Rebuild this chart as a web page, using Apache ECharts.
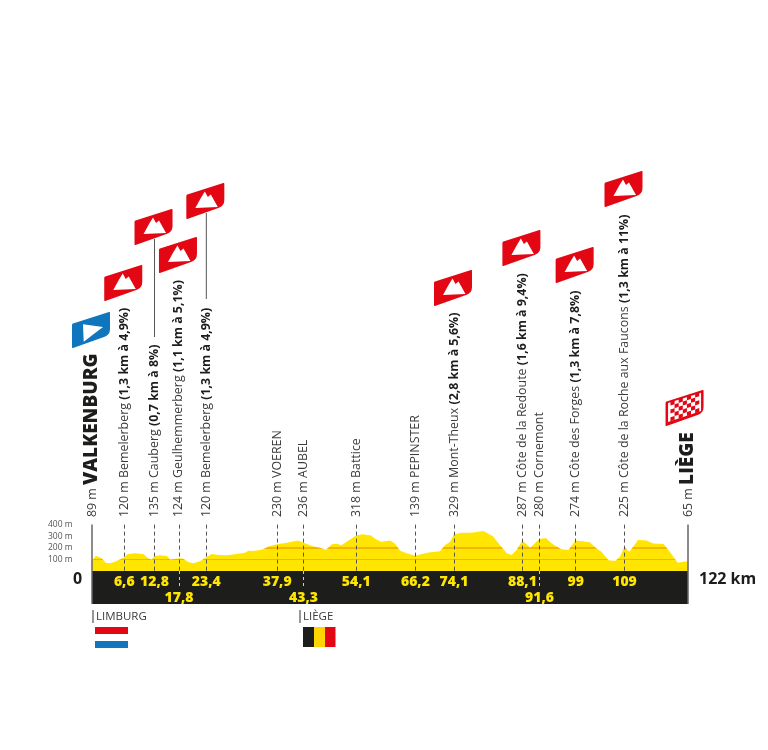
<!DOCTYPE html>
<html>
<head>
<meta charset="utf-8">
<style>html,body{margin:0;padding:0;background:#fff}#main{width:768px;height:750px}</style>
<script src="https://cdn.jsdelivr.net/npm/echarts@6/dist/echarts.min.js"></script>
</head>
<body>
<div id="main"></div>
<script>
// profile
const profileKm = [0, 0.8, 2, 2.8, 3.7, 4.7, 6.6, 7.2, 8.8, 10.5, 11.5, 12.2, 12.8, 13.9, 15.3, 16, 17.8, 18.7, 19.7, 20.7, 22.1, 23.4, 24.5, 25.9, 27.6, 29.6, 31.3, 32, 33, 34.7, 36.4, 37.9, 39.9, 42.2, 43.3, 45, 46.7, 47.9, 49.1, 50.1, 51.1, 52.5, 54.1, 55.4, 57.1, 58.1, 59.2, 61, 62, 63.1, 64.4, 66.2, 67.5, 69.2, 70.2, 71.2, 72.3, 73.3, 74.1, 75.7, 77.7, 80.1, 82, 83.5, 84.9, 85.9, 86.9, 88.1, 89.7, 91.6, 92.9, 94.1, 96.1, 97.5, 99, 101.9, 103.3, 104.3, 105.7, 107.1, 108.1, 109, 110, 111.8, 113.5, 114.9, 117, 118, 119.9, 121.7, 122]
const profileElev = [89, 132, 109, 72, 66, 80, 118, 144, 152, 147, 109, 100, 130, 135, 130, 100, 109, 106, 78, 66, 83, 118, 147, 138, 135, 147, 158, 175, 172, 184, 215, 230, 244, 264, 244, 215, 201, 184, 230, 235, 221, 262, 305, 316, 307, 273, 253, 264, 238, 175, 152, 132, 147, 161, 167, 170, 224, 253, 316, 330, 330, 345, 302, 224, 152, 138, 181, 262, 201, 276, 285, 238, 187, 181, 262, 247, 195, 167, 92, 86, 124, 210, 167, 267, 262, 238, 233, 181, 72, 83, 65]

const markerKm = [0, 6.6, 12.8, 17.8, 23.4, 37.9, 43.3, 54.1, 66.2, 74.1, 88.1, 91.6, 99, 109, 122]
const markerName = ['89 m', '120 m Bemelerberg', '135 m Cauberg', '124 m Geulhemmerberg', '120 m Bemelerberg', '230 m VOEREN', '236 m AUBEL', '318 m Battice', '139 m PEPINSTER', '329 m Mont-Theux', '287 m Côte de la Redoute', '280 m Cornemont', '274 m Côte des Forges', '225 m Côte de la Roche aux Faucons', '65 m']
const markerBold = ['VALKENBURG', '(1,3 km à 4,9%)', '(0,7 km à 8%)', '(1,1 km à 5,1%)', '(1,3 km à 4,9%)', '', '', '', '', '(2,8 km à 5,6%)', '(1,6 km à 9,4%)', '', '(1,3 km à 7,8%)', '(1,3 km à 11%)', 'LIÈGE']

const kmRowOne = [6.6, 12.8, 23.4, 37.9, 54.1, 66.2, 74.1, 88.1, 99, 109]
const kmRowOneText = ['6,6', '12,8', '23,4', '37,9', '54,1', '66,2', '74,1', '88,1', '99', '109']
const kmRowTwo = [17.8, 43.3, 91.6]
const kmRowTwoText = ['17,8', '43,3', '91,6']
const dashKm = [6.6, 12.8, 17.8, 23.4, 37.9, 43.3, 54.1, 66.2, 74.1, 88.1, 91.6, 99, 109]

// [km, top of the flag in px, kind, bottom of leader in px]
const flags = [
  [0, 312, 1, 0],
  [6.6, 265, 0, 0],
  [12.8, 209, 0, 337],
  [17.8, 237, 0, 0],
  [23.4, 183, 0, 299],
  [74.1, 270, 0, 0],
  [88.1, 230, 0, 0],
  [99, 247, 0, 0],
  [109, 171, 0, 0],
  [121.5, 390, 2, 0]
]

const FONT = '"Open Sans", sans-serif'
const TEXT = '#3c3c3b'
const BAND_Y = -285
const ROW_ONE_Y = -95
const ROW_TWO_Y = -235

const FLAG_PATH = 'M0 13Q0 12 1 11.6L37 .3Q38 0 38 1L38 17Q38 23 32 25L1 35.7Q0 36 0 35Z'
const PEAK_PATH = 'M9 25L14.5 15L18.5 8.5L21.5 14L24.5 11.5L31.5 24Z'
const ARROW_PATH = 'M11 12.3L31 15L11.7 29.7Z'

function checker() {
  // red squares of the finish flag, skewed with the flag
  let d = ''
  for (let c = 0; c < 7; c++) {
    for (let r = 0; r < 5; r++) {
      if ((c + r) % 2) continue
      const x = 2.5 + c * 4.8
      const y = 11.5 - c * 1.55 + r * 4.6
      d += `M${x} ${y}L${x + 4.8} ${y - 1.55}L${x + 4.8} ${y + 3.05}L${x} ${y + 4.6}Z`
    }
  }
  return d
}

function shape(d, x, y, w, h, fill) {
  return { type: 'path', x, y, shape: { pathData: d, x: 0, y: 0, width: w, height: h, layout: 'cover' }, style: { fill } }
}

function renderFlag(params, api) {
  const cx = api.coord([api.value(0), 0])[0]
  const top = api.value(1)
  const kind = api.value(2)
  const leader = api.value(3)
  const x = cx - 20
  const children = []
  if (leader) {
    children.push({ type: 'line', shape: { x1: cx, y1: top + 30, x2: cx, y2: leader }, style: { stroke: '#555', lineWidth: 1 } })
  }
  if (kind === 1) {
    children.push(shape(FLAG_PATH, x, top, 38, 36, '#0f75bc'))
    children.push(shape(ARROW_PATH, x + 11, top + 12.3, 20, 17.4, '#fff'))
  } else if (kind === 2) {
    children.push(shape(FLAG_PATH, x, top, 38, 36, '#e30613'))
    children.push({ type: 'polygon', shape: { points: [[x + 2.5, top + 13], [x + 35.5, top + 2.8], [x + 35.5, top + 21], [x + 2.5, top + 32]] }, style: { fill: '#fff' } })
    children.push({ type: 'path', shape: { pathData: checker(), x: x + 2.5, y: top + 2.3, width: 33.6, height: 29 }, style: { fill: '#e30613' } })
  } else {
    children.push(shape(FLAG_PATH, x, top, 38, 36, '#e30613'))
    children.push(shape(PEAK_PATH, x + 9, top + 8.5, 22.5, 16.5, '#fff'))
  }
  return { type: 'group', children }
}

const chart = echarts.init(document.getElementById('main'))

// hard stops give the 100 m and 200 m rules, only where the profile is filled
const profileFill = new echarts.graphic.LinearGradient(0, 524, 0, 571, [
  { offset: 0, color: '#ffe500' },
  { offset: 0.5, color: '#ffe500' },
  { offset: 0.5, color: '#f5b400' },
  { offset: 0.522, color: '#f5b400' },
  { offset: 0.522, color: '#ffe500' },
  { offset: 0.745, color: '#ffe500' },
  { offset: 0.745, color: '#f5b400' },
  { offset: 0.767, color: '#f5b400' },
  { offset: 0.767, color: '#ffe500' },
  { offset: 1, color: '#ffe500' }
], true)

const hiddenDot = { color: 'transparent', opacity: 1 }

const option = {
  animation: false,
  grid: { left: 92, width: 596, top: 524.6, height: 81.2, containLabel: false },
  xAxis: { type: 'value', min: 0, max: 122, show: false },
  yAxis: {
    type: 'value', min: -300, max: 400, interval: 100,
    axisLine: { show: false }, axisTick: { show: false }, splitLine: { show: false },
    axisLabel: {
      margin: 44, align: 'left', fontFamily: FONT, fontSize: 8.5, color: '#555', padding: [0, 0, 3, 0],
      formatter: (v) => (v > 0 ? v + ' m' : '')
    }
  },
  series: [
    {
      name: 'profile', type: 'line', symbol: 'none', silent: true, z: 2,
      data: profileKm.map((km, i) => [km, profileElev[i]]),
      lineStyle: { width: 0 },
      areaStyle: { color: profileFill, origin: 0, opacity: 1 },
      markArea: {
        silent: true,
        itemStyle: { color: '#1d1d1b' },
        data: [[{ coord: [0, 0] }, { coord: [122, BAND_Y] }]]
      }
    },
    {
      name: 'dashes', type: 'line', data: [], z: 3,
      markLine: {
        silent: true, symbol: 'none', label: { show: false },
        lineStyle: { type: [4, 3], width: 1, color: '#555' },
        data: dashKm.map((km) => [{ coord: [km, 400] }, { coord: [km, 0] }])
          .concat(kmRowTwo.map((km) => [
            { coord: [km, 0], lineStyle: { color: '#ccc', type: [3, 3], width: 1 } },
            { coord: [km, -130] }
          ]))
          .concat([0, 122].map((km) => [
            { coord: [km, 400], lineStyle: { color: '#666', type: 'solid', width: 1.5 } },
            { coord: [km, BAND_Y] }
          ]))
      }
    },
    {
      name: 'places', type: 'scatter', symbol: 'circle', symbolSize: 1, itemStyle: hiddenDot, z: 4, clip: false,
      data: markerKm.map((km, i) => ({
        value: [km, 400],
        label: {
          formatter: markerBold[i]
            ? `{n|${markerName[i]}} {${i === 0 || i === 14 ? 'c' : 'b'}|${markerBold[i]}}`
            : `{n|${markerName[i]}}`
        }
      })),
      label: {
        show: true, position: 'top', distance: 7, rotate: 90, align: 'left', verticalAlign: 'middle',
        rich: {
          n: { fontFamily: FONT, fontSize: 12.4, color: TEXT },
          b: { fontFamily: FONT, fontSize: 12.4, fontWeight: 700, color: '#1d1d1b' },
          c: { fontFamily: FONT, fontSize: 19, fontWeight: 800, color: '#1d1d1b' }
        }
      }
    },
    {
      name: 'km first row', type: 'scatter', symbol: 'circle', symbolSize: 1, itemStyle: hiddenDot, z: 5,
      data: kmRowOne.map((km, i) => ({ value: [km, ROW_ONE_Y], label: { formatter: kmRowOneText[i] } })),
      label: { show: true, position: 'inside', fontFamily: FONT, fontSize: 14, fontWeight: 800, color: '#ffe600' }
    },
    {
      name: 'km second row', type: 'scatter', symbol: 'circle', symbolSize: 1, itemStyle: hiddenDot, z: 5,
      data: kmRowTwo.map((km, i) => ({ value: [km, ROW_TWO_Y], label: { formatter: kmRowTwoText[i] } })),
      label: { show: true, position: 'inside', fontFamily: FONT, fontSize: 14, fontWeight: 800, color: '#ffe600' }
    },
    {
      name: 'flags', type: 'custom', z: 6, silent: true,
      data: flags,
      encode: { x: 0 },
      renderItem: renderFlag
    }
  ],
  graphic: [
    { type: 'text', left: 73, top: 571, style: { text: '0', font: '700 16px ' + FONT, fill: '#1d1d1b' } },
    { type: 'text', left: 699, top: 571, style: { text: '122 km', font: '700 16px ' + FONT, fill: '#1d1d1b' } },
    { type: 'rect', left: 92.5, top: 610, shape: { width: 1, height: 13 }, style: { fill: '#333' } },
    { type: 'text', left: 96, top: 611, style: { text: 'LIMBURG', font: '11.5px ' + FONT, fill: TEXT } },
    { type: 'rect', left: 95, top: 627, shape: { width: 33, height: 7 }, style: { fill: '#e30613' } },
    { type: 'rect', left: 95, top: 641, shape: { width: 33, height: 7 }, style: { fill: '#0f75bc' } },
    { type: 'rect', left: 299.5, top: 610, shape: { width: 1, height: 13 }, style: { fill: '#333' } },
    { type: 'text', left: 303, top: 611, style: { text: 'LIÈGE', font: '11.5px ' + FONT, fill: TEXT } },
    { type: 'rect', left: 303, top: 627, shape: { width: 11, height: 20 }, style: { fill: '#1d1d1b' } },
    { type: 'rect', left: 314, top: 627, shape: { width: 11, height: 20 }, style: { fill: '#ffd500' } },
    { type: 'rect', left: 325, top: 627, shape: { width: 10.5, height: 20 }, style: { fill: '#e30613' } }
  ]
}
chart.setOption(option)
</script>
</body>
</html>
